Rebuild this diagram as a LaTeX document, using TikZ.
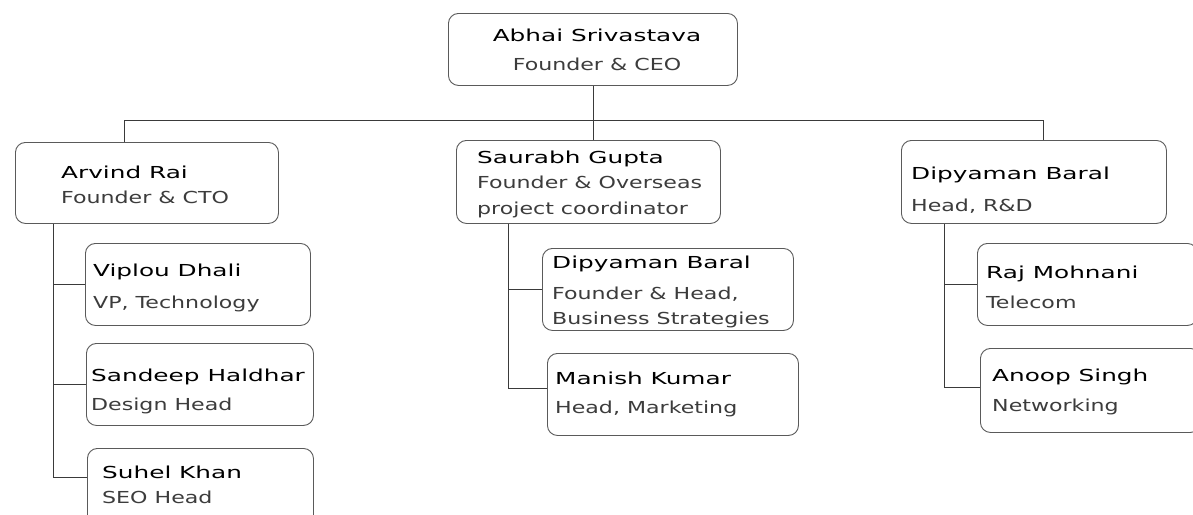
\documentclass[tikz,border=0pt]{standalone}
\usepackage{fontspec}
\newfontfamily\namefont[FakeStretch=1.5]{DejaVu Sans}
\newfontfamily\titlefont[FakeStretch=1.34]{DejaVu Sans}
\definecolor{boxc}{HTML}{5A5A5A}
\definecolor{connc}{HTML}{3A3A3A}
\definecolor{tc}{HTML}{3C3C3C}
\newcommand\pname[1]{{\namefont\color{black}#1}}
\newcommand\ptitle[1]{{\titlefont\color{tc}#1}}
\tikzset{
  pbox/.style={draw=boxc, line width=0.9pt, rounded corners=10pt, anchor=north west, inner sep=0pt},
  ptext/.style={anchor=north west, align=left, inner sep=0pt, font=\fontsize{16.5}{28}\selectfont},
  conn/.style={draw=connc, line width=0.9pt}
}
\begin{document}
\begin{tikzpicture}[x=1pt, y=-1pt]
\clip (0,0) rectangle (1193,514);
\fill[white] (0,0) rectangle (1193,514);
% boxes
\node[pbox, minimum width=289, minimum height=72] (ceo) at (448,13) {};
\node[ptext, anchor=north, align=center] (ceoT) at (597,28.5) {\pname{Abhai Srivastava}\\[1pt]\ptitle{Founder \& CEO}};

\node[pbox, minimum width=263, minimum height=81] (arvind) at (15,142) {};
\node[ptext] (arvindT) at (61,165.5) {\pname{Arvind Rai}\\[-3pt]\ptitle{Founder \& CTO}};

\node[pbox, minimum width=225, minimum height=82] (viplou) at (85,243) {};
\node[ptext] (viplouT) at (93,263.5) {\pname{Viplou Dhali}\\[4pt]\ptitle{VP, Technology}};

\node[pbox, minimum width=227, minimum height=82] (sandeep) at (86,343) {};
\node[ptext] (sandeepT) at (91,368.5) {\pname{Sandeep Haldhar}\\[1pt]\ptitle{Design Head}};

\node[pbox, minimum width=226, minimum height=82] (suhel) at (87,448) {};
\node[ptext] (suhelT) at (102,465.5) {\pname{Suhel Khan}\\[-3pt]\ptitle{SEO Head}};

\node[pbox, minimum width=264, minimum height=83] (saurabh) at (456,140) {};
\node[ptext] (saurabhT) at (477,150.5) {\pname{Saurabh Gupta}\\[-2.5pt]\ptitle{Founder \& Overseas}\\[-2.5pt]\ptitle{project coordinator}};

\node[pbox, minimum width=251, minimum height=82] (dipm) at (542,248) {};
\node[ptext] (dipmT) at (552,255.5) {\pname{Dipyaman Baral}\\[3pt]\ptitle{Founder \& Head,}\\[-3pt]\ptitle{Business Strategies}};

\node[pbox, minimum width=251, minimum height=82] (manish) at (547,353) {};
\node[ptext] (manishT) at (555,371.5) {\pname{Manish Kumar}\\[1pt]\ptitle{Head, Marketing}};

\node[pbox, minimum width=265, minimum height=83] (dipr) at (901,140) {};
\node[ptext] (diprT) at (911,166.5) {\pname{Dipyaman Baral}\\[4pt]\ptitle{Head, R\&D}};

\node[pbox, minimum width=220, minimum height=82] (raj) at (977,243) {};
\node[ptext] (rajT) at (986,265.5) {\pname{Raj Mohnani}\\[2pt]\ptitle{Telecom}};

\node[pbox, minimum width=220, minimum height=84] (anoop) at (980,348) {};
\node[ptext] (anoopT) at (992,368.5) {\pname{Anoop Singh}\\[2pt]\ptitle{Networking}};

% connectors
\coordinate (bus) at (0,120);
\coordinate (dA) at (124,142);
\coordinate (dR) at (1043,140);
\coordinate (tA) at (53,0);
\coordinate (tS) at (508,0);
\coordinate (tR) at (944,0);
\draw[conn] (ceo.south) -- (ceo.south |- saurabh.north);
\draw[conn] (dA) -- (dA |- bus) -- (dR |- bus) -- (dR);

\draw[conn] (tA |- arvind.south) |- ([yshift=12pt]suhel.west);
\draw[conn] (tA |- viplou.west) -- (viplou.west);
\draw[conn] (tA |- sandeep.west) -- (sandeep.west);

\draw[conn] (tS |- saurabh.south) |- ([yshift=6pt]manish.west);
\draw[conn] (tS |- dipm.west) -- (dipm.west);

\draw[conn] (tR |- dipr.south) |- ([yshift=3pt]anoop.west);
\draw[conn] (tR |- raj.west) -- (raj.west);
\end{tikzpicture}
\end{document}
